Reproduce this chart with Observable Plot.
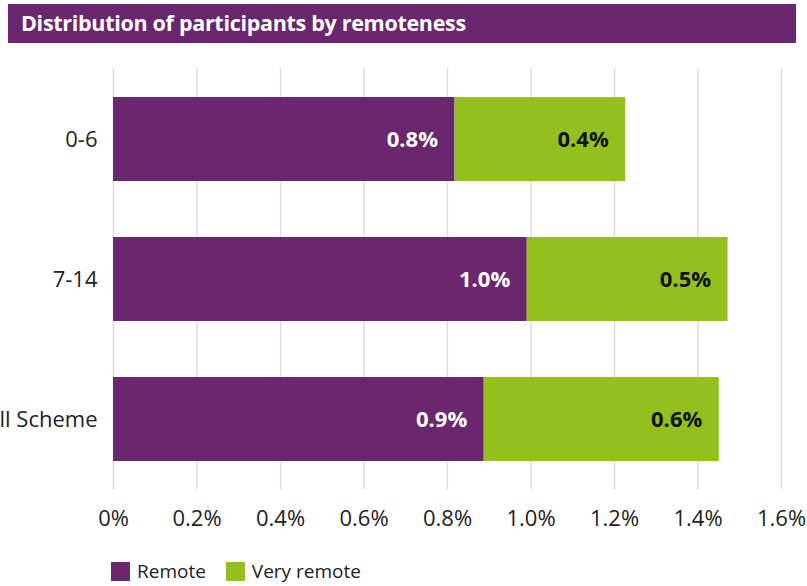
<!DOCTYPE html>
<html>
<head>
<meta charset="utf-8">
<script src="https://cdn.jsdelivr.net/npm/d3@7"></script>
<script src="https://cdn.jsdelivr.net/npm/@observablehq/plot@0.6"></script>
<style>
  html, body { margin: 0; padding: 0; background: white; }
  body { width: 807px; height: 586px; overflow: hidden; font-family: "Open Sans", sans-serif; }
  #title { margin: 4px 11px 0 8px; height: 39px; line-height: 38px; background: #6b2670; color: white;
           font-weight: bold; font-size: 21.5px; padding-left: 13px; letter-spacing: -0.3px; }
  #chart svg { display: block; margin-top: 3px; }
  #legend { display: flex; align-items: center; margin: 19px 0 0 111px; font-size: 19px; color: #222; }
  #legend .sw { width: 19px; height: 19px; display: inline-block; margin-right: 7px; }
  #legend .item { display: flex; align-items: center; margin-right: 20px; }
</style>
</head>
<body>
<div id="title">Distribution of participants by remoteness</div>
<div id="chart"></div>
<div id="legend"></div>
<script>
const categories = ["0-6", "7-14", "All Scheme"];
const series = ["Remote", "Very remote"];
const remote = [0.818, 0.991, 0.888];
const veryRemote = [0.409, 0.481, 0.563];
const xTicks = [0, 0.2, 0.4, 0.6, 0.8, 1.0, 1.2, 1.4, 1.6];
const colors = ["#6b2670", "#93c01f"];
const labelColors = ["white", "#111"];

const rows = [];
categories.forEach((c, i) => {
  rows.push({cat: c, series: series[0], value: remote[i], x1: 0, x2: remote[i]});
  rows.push({cat: c, series: series[1], value: veryRemote[i], x1: remote[i], x2: remote[i] + veryRemote[i]});
});

const fmt = d => d === 0 ? "0%" : d.toFixed(1) + "%";

const chart = Plot.plot({
  width: 807,
  height: 493,
  marginLeft: 113,
  marginRight: 26,
  marginTop: 22,
  marginBottom: 50,
  style: {fontFamily: "Open Sans, sans-serif", fontSize: "22px", color: "#222", background: "white"},
  x: {domain: [0, 1.6], ticks: xTicks, tickFormat: fmt},
  y: {domain: categories, paddingInner: 0.4, paddingOuter: 0.2},
  color: {domain: series, range: colors},
  marks: [
    Plot.gridX(xTicks, {stroke: "#dcdcdc", strokeOpacity: 1, strokeWidth: 1.5}),
    Plot.barX(rows, {y: "cat", x1: "x1", x2: "x2", fill: "series"}),
    Plot.text(rows.filter(d => d.series === series[0]), {
      y: "cat", x: "x2", text: d => fmt(d.value), textAnchor: "end", dx: -17,
      fill: labelColors[0], fontWeight: "bold", fontSize: 22
    }),
    Plot.text(rows.filter(d => d.series === series[1]), {
      y: "cat", x: "x2", text: d => fmt(d.value), textAnchor: "end", dx: -17,
      fill: labelColors[1], fontWeight: "bold", fontSize: 22
    }),
    Plot.axisX(xTicks, {tickSize: 0, tickPadding: 21, tickFormat: fmt, fontSize: 22, label: null}),
    Plot.axisY({tickSize: 0, tickPadding: 16, fontSize: 22, label: null})
  ]
});
document.getElementById("chart").appendChild(chart);

const legend = document.getElementById("legend");
series.forEach((s, i) => {
  const item = document.createElement("div");
  item.className = "item";
  const sw = document.createElement("span");
  sw.className = "sw";
  sw.style.background = colors[i];
  item.appendChild(sw);
  item.appendChild(document.createTextNode(s));
  legend.appendChild(item);
});
</script>
</body>
</html>
